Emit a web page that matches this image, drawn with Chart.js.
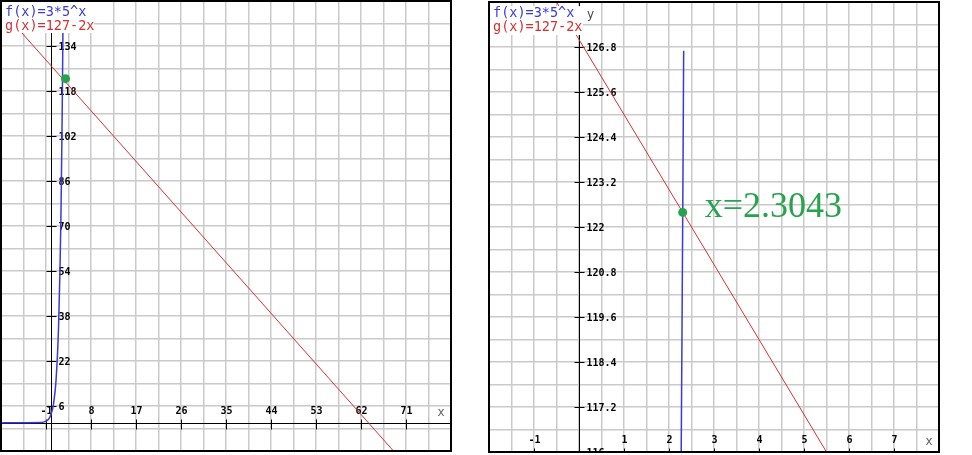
<!DOCTYPE html>
<html>
<head>
<meta charset="utf-8">
<script src="https://cdn.jsdelivr.net/npm/chart.js@4.4.0/dist/chart.umd.min.js"></script>
<style>
    body { margin: 0; background: #fff; width: 972px; height: 455px; overflow: hidden; position: relative; }
    canvas { position: absolute; }
    #left { left: 0; top: 0; }
    #right { left: 488px; top: 1px; }
</style>
</head>
<body>
<canvas id="left" width="452" height="452"></canvas>
<canvas id="right" width="452" height="452"></canvas>
<script>
// Legendas das funções
const fLabel = 'f(x)=3*5^x'
const gLabel = 'g(x)=127-2x'

// Painel esquerdo
const leftRange = { xMin: -10, xMax: 80, yMin: -10, yMax: 150, xGrid: 4.5, yGrid: 8 }
const leftXTicks = [-1, 8, 17, 26, 35, 44, 53, 62, 71]
const leftYTicks = [6, 22, 38, 54, 70, 86, 102, 118, 134]
const leftFx = [-10, -2, -1, -0.5, 0, 0.5, 1, 1.5, 1.8, 2, 2.2, 2.3, 2.4, 2.45]
const leftFy = [0, 0.1, 0.6, 1.3, 3, 6.7, 15, 33.5, 54.6, 75, 104, 122, 143, 155]
const leftGx = [-10, 80]
const leftGy = [147, -33]
const leftPoint = [2.9, 122.4]

// Painel direito
const rightRange = { xMin: -2, xMax: 8, yMin: 116, yMax: 128, xGrid: 0.5, yGrid: 0.6 }
const rightXTicks = [-1, 1, 2, 3, 4, 5, 6, 7]
const rightYTicks = [116, 117.2, 118.4, 119.6, 120.8, 122, 123.2, 124.4, 125.6, 126.8]
const rightFx = [2.271, 2.289, 2.307, 2.326]
const rightFy = [116, 119.2, 122.7, 126.7]
const rightGx = [-2, 8]
const rightGy = [131, 111]
const rightPoint = [2.3043, 122.39]
const rightNote = 'x=2.3043'

const BLUE = '#3a3ad8'
const RED = '#d63030'
const GREEN = '#27a34e'

function toPoints(xs, ys) {
    return xs.map((x, i) => ({ x: x, y: ys[i] }))
}

function gridTicks(min, max, step) {
    const ticks = []
    const n = Math.round((max - min) / step)
    for (let i = 0; i <= n; i++) {
        ticks.push({ value: +(min + i * step).toFixed(4) })
    }
    return ticks
}

function clamp(v, a, b) {
    return Math.min(Math.max(v, a), b)
}

// eixos, marcas e textos desenhados por cima da grade
const graphPlugin = {
    id: 'graph',
    beforeDatasetsDraw(chart, args, opts) {
        const { ctx, chartArea: a, scales: { x, y } } = chart
        const x0 = Math.round(x.getPixelForValue(clamp(0, x.min, x.max))) + 0.5
        const y0 = Math.round(y.getPixelForValue(clamp(0, y.min, y.max))) + 0.5

        ctx.save()
        ctx.beginPath()
        ctx.rect(a.left, a.top, a.right - a.left, a.bottom - a.top)
        ctx.clip()

        ctx.strokeStyle = '#000'
        ctx.lineWidth = 1
        ctx.beginPath()
        ctx.moveTo(a.left, y0)
        ctx.lineTo(a.right, y0)
        ctx.moveTo(x0, a.top)
        ctx.lineTo(x0, a.bottom)
        ctx.stroke()

        ctx.font = 'bold 10px "DejaVu Sans Mono"'
        ctx.fillStyle = '#000'

        // marcas do eixo x
        ctx.textAlign = 'center'
        ctx.textBaseline = 'middle'
        opts.xTicks.forEach(v => {
            const px = Math.round(x.getPixelForValue(v)) + 0.5
            ctx.beginPath()
            ctx.moveTo(px, y0 - 4)
            ctx.lineTo(px, y0 + 6)
            ctx.stroke()
            ctx.fillText(String(v), px, y0 - 12)
        })

        // marcas do eixo y
        ctx.textAlign = 'left'
        opts.yTicks.forEach(v => {
            const py = Math.round(y.getPixelForValue(v)) + 0.5
            ctx.beginPath()
            ctx.moveTo(x0 - 5, py)
            ctx.lineTo(x0 + 5, py)
            ctx.stroke()
            ctx.fillText(String(v), x0 + 7, py + 1)
        })

        // nomes dos eixos
        ctx.font = '12px "DejaVu Sans"'
        ctx.fillStyle = '#666'
        ctx.textAlign = 'center'
        ctx.fillText('x', a.right - 10, y0 - 11)
        ctx.fillStyle = '#444'
        ctx.fillText('y', x0 + 11, a.top + 13)
        ctx.restore()
    },
    afterDatasetsDraw(chart, args, opts) {
        const { ctx, chartArea: a, scales: { x, y } } = chart
        ctx.save()

        // ponto de interseção
        const px = x.getPixelForValue(opts.point[0])
        const py = y.getPixelForValue(opts.point[1])
        ctx.fillStyle = GREEN
        ctx.beginPath()
        ctx.arc(px, py, 4.5, 0, Math.PI * 2)
        ctx.fill()

        if (opts.note) {
            ctx.font = '36px "Liberation Serif"'
            ctx.textAlign = 'left'
            ctx.textBaseline = 'alphabetic'
            ctx.fillText(opts.note, px + 22, py + 5)
        }

        // caixa da legenda
        const b = opts.legendBox
        ctx.fillStyle = '#fff'
        ctx.fillRect(a.left + 1, a.top + b.top, b.width, b.height)
        ctx.font = '13.5px "DejaVu Sans Mono"'
        ctx.textAlign = 'left'
        ctx.textBaseline = 'alphabetic'
        ctx.fillStyle = BLUE
        ctx.fillText(fLabel, a.left + 4, a.top + 15)
        ctx.fillStyle = RED
        ctx.fillText(gLabel, a.left + 4, a.top + 29)

        // moldura
        ctx.strokeStyle = '#000'
        ctx.lineWidth = 2
        ctx.strokeRect(a.left, a.top, a.right - a.left, a.bottom - a.top)
        ctx.restore()
    }
}

function makeChart(id, range, fPts, gPts, opts) {
    const ctx = document.getElementById(id).getContext('2d')
    return new Chart(ctx, {
        type: 'scatter',
        data: {
            datasets: [
                {
                    data: gPts,
                    showLine: true,
                    borderColor: RED,
                    borderWidth: 1,
                    pointRadius: 0
                },
                {
                    data: fPts,
                    showLine: true,
                    borderColor: BLUE,
                    borderWidth: 1.5,
                    pointRadius: 0,
                    cubicInterpolationMode: 'monotone'
                }
            ]
        },
        options: {
            responsive: false,
            animation: false,
            events: [],
            layout: { padding: 1 },
            scales: {
                x: {
                    type: 'linear',
                    min: range.xMin,
                    max: range.xMax,
                    afterBuildTicks: axis => { axis.ticks = gridTicks(range.xMin, range.xMax, range.xGrid) },
                    ticks: { display: false },
                    border: { display: false },
                    grid: { color: '#cacaca', lineWidth: 1.5, drawTicks: false }
                },
                y: {
                    type: 'linear',
                    min: range.yMin,
                    max: range.yMax,
                    afterBuildTicks: axis => { axis.ticks = gridTicks(range.yMin, range.yMax, range.yGrid) },
                    ticks: { display: false },
                    border: { display: false },
                    grid: { color: '#cacaca', lineWidth: 1.5, drawTicks: false }
                }
            },
            plugins: {
                legend: { display: false },
                tooltip: { enabled: false },
                graph: opts
            }
        },
        plugins: [graphPlugin]
    })
}

makeChart('left', leftRange, toPoints(leftFx, leftFy), toPoints(leftGx, leftGy), {
    xTicks: leftXTicks,
    yTicks: leftYTicks,
    point: leftPoint,
    note: null,
    legendBox: { top: 0, width: 92, height: 32 }
})

makeChart('right', rightRange, toPoints(rightFx, rightFy), toPoints(rightGx, rightGy), {
    xTicks: rightXTicks,
    yTicks: rightYTicks,
    point: rightPoint,
    note: rightNote,
    legendBox: { top: 4, width: 93, height: 29 }
})
</script>
</body>
</html>
